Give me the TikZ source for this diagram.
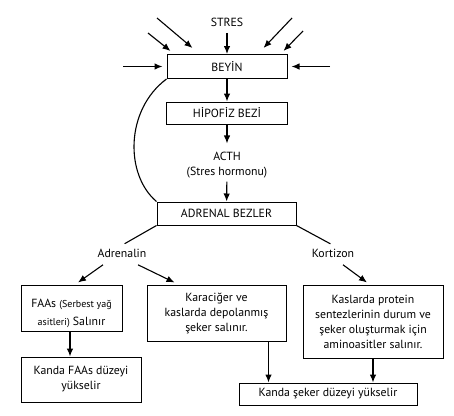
\documentclass[tikz,border=0pt]{standalone}
\usepackage{fontspec}
\setmainfont{PT Sans}
\usetikzlibrary{arrows.meta}

\newcommand{\kucuk}{\fontsize{10}{15}\selectfont}
\tikzset{
  kutu/.style={draw, line width=1pt, inner sep=2pt, align=center, font=\fontsize{11.8}{15}\selectfont},
  yazi/.style={align=center, font=\fontsize{11.8}{15}\selectfont},
  ok/.style={-{Latex[length=8pt,width=6.5pt]}, line width=1.1pt},
  cizgi/.style={line width=1.1pt},
}

\begin{document}
\begin{tikzpicture}[x=1pt,y=-1pt]
   \useasboundingbox (0,0) rectangle (454,415);
   \node[yazi] (stres) at (227,22) {STRES};
   \node[kutu, minimum width=120pt, minimum height=24pt] (beyin) at (227,66.5) {BEYİN};
   \node[kutu, minimum width=121pt, minimum height=22pt] (hipofiz) at (227,113) {HİPOFİZ BEZİ};
   \node[yazi] (acth) at (227,165) {ACTH\\(Stres hormonu)};
   \node[kutu, minimum width=139pt, minimum height=23pt] (adrenal) at (226.5,213.5) {ADRENAL BEZLER};
   \node[yazi] (adrenalin) at (122,253) {Adrenalin};
   \node[yazi] (kortizon) at (333,253) {Kortizon};
   \node[kutu, minimum width=101pt, minimum height=46pt] (faas) at (71.5,308) {\rule{0pt}{20pt}FAAs {\kucuk(Serbest yağ}\\[3pt]{\kucuk asitleri)} Salınır};
   \node[kutu, minimum width=139pt, minimum height=56pt] (karaciger) at (216.5,313) {Karaciğer ve\\kaslarda depolanmış\\şeker salınır.};
   \node[kutu, minimum width=140pt, minimum height=73pt] (kaslarda) at (373,321.5) {Kaslarda protein\\sentezlerinin durum ve\\şeker oluşturmak için\\aminoasitler salınır.};
   \node[kutu, minimum width=120pt, minimum height=45pt] (kandafaas) at (81,379.5) {Kanda FAAs düzeyi\\yükselir};
   \node[kutu, minimum width=178pt, minimum height=22pt] (kandaseker) at (328,394) {Kanda şeker düzeyi yükselir};
   % stres oklari
   \coordinate (s1) at (157,18);
   \coordinate (s2) at (148,33);
   \coordinate (s3) at (292,18);
   \coordinate (s4) at (303,31);
   \coordinate (s5) at (123,66.5);
   \coordinate (s6) at (330,66.5);
   \draw[ok] (s1) -- ([xshift=26pt,yshift=6pt]beyin.north west);
   \draw[ok] (s2) -- ([xshift=4pt,yshift=3pt]beyin.north west);
   \draw[ok] (s3) -- ([xshift=-24pt,yshift=6pt]beyin.north east);
   \draw[ok] (s4) -- ([xshift=-4pt,yshift=3pt]beyin.north east);
   \draw[ok] (s5) -- ([xshift=-4pt]beyin.west);
   \draw[ok] (s6) -- ([xshift=4pt]beyin.east);
   \draw[ok, shorten <=3pt] (stres) -- (beyin);
   \draw[ok] (beyin) -- (hipofiz);
   \draw[ok, shorten >=5pt] (hipofiz) -- (acth);
   \draw[ok] (acth) -- (adrenal);
   \draw[cizgi] (beyin.south west) .. controls (125,110) and (125,175) .. (adrenal.north west);
   \draw[cizgi, shorten >=3pt] (adrenal.south west) -- (adrenalin.north);
   \draw[cizgi, shorten >=3pt] (adrenal.south east) -- (kortizon.north);
   \draw[ok] ([xshift=-19pt,yshift=-4pt]adrenalin.south) -- ([xshift=6.5pt,yshift=2pt]faas.north);
   \draw[ok] ([xshift=16pt,yshift=-4pt]adrenalin.south) -- ([xshift=28pt,yshift=2pt]karaciger.north west);
   \draw[ok] ([xshift=10pt,yshift=-4pt]kortizon.south) -- ([xshift=-6pt,yshift=2pt]kaslarda.north);
   \draw[ok] ([xshift=-1.5pt]faas.south) -- ([xshift=-1.5pt]faas.south |- kandafaas.north);
   \draw[ok] ([xshift=-18pt]karaciger.south east) -- ([xshift=-18pt]karaciger.south east |- kandaseker.north);
   \draw[ok] (kaslarda.south) -- (kaslarda.south |- kandaseker.north);
\end{tikzpicture}
\end{document}
